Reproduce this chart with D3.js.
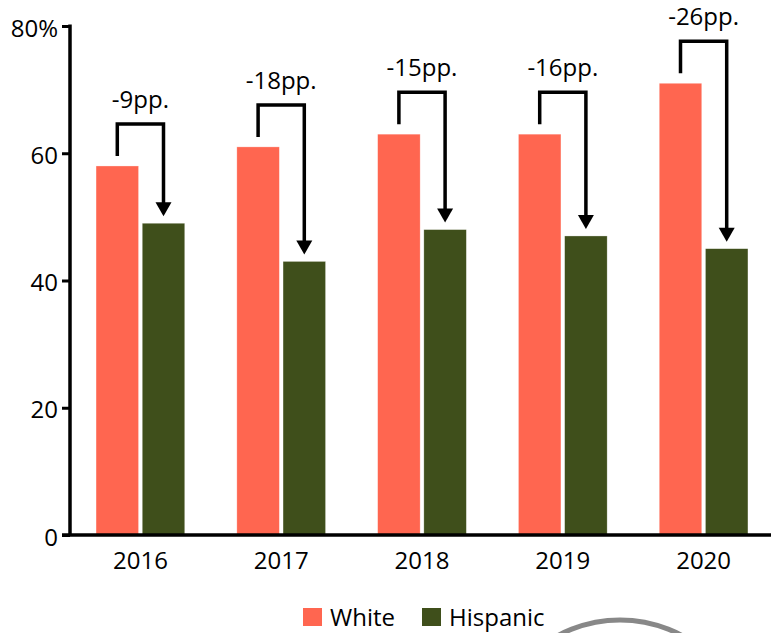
<!DOCTYPE html>
<html>
<head>
<meta charset="utf-8">
<script src="https://cdn.jsdelivr.net/npm/d3@7"></script>
<style>
  html, body { margin: 0; padding: 0; background: #fff; }
  svg { display: block; }
  text { font-family: "Open Sans", sans-serif; fill: #000; }
</style>
</head>
<body>
<svg id="chart" width="771" height="633"></svg>
<script>
const years = ["2016", "2017", "2018", "2019", "2020"];
const seriesNames = ["White", "Hispanic"];
const whiteValues = [58, 61, 63, 63, 71];
const hispanicValues = [49, 43, 48, 47, 45];
const yTicks = [0, 20, 40, 60, 80];
const seriesColors = ["#ff6650", "#3f4f1b"];

const svg = d3.select("#chart");
const W = 771, H = 633;
const FONT = "'Open Sans', sans-serif";

const y = d3.scaleLinear().domain([0, 80]).range([535, 26]);
const x = d3.scaleBand().domain(years).range([70, 774]).paddingInner(0.37).paddingOuter(0.185);
const xs = d3.scaleBand().domain(seriesNames).range([0, x.bandwidth()]).paddingInner(0.08);
const color = d3.scaleOrdinal().domain(seriesNames).range(seriesColors);

const data = years.map((yr, i) => ({ year: yr, White: whiteValues[i], Hispanic: hispanicValues[i] }));

// decorative grey arc (partially visible circle at bottom)
svg.append("circle")
  .attr("cx", 620).attr("cy", 751).attr("r", 131)
  .attr("fill", "none").attr("stroke", "#888").attr("stroke-width", 5);

// bars
const groups = svg.append("g").selectAll("g").data(data).join("g")
  .attr("transform", d => `translate(${x(d.year)},0)`);
groups.selectAll("rect").data(d => seriesNames.map(s => ({ s, v: d[s] }))).join("rect")
  .attr("x", d => xs(d.s))
  .attr("width", xs.bandwidth())
  .attr("y", d => y(d.v))
  .attr("height", d => y(0) - y(d.v))
  .attr("fill", d => color(d.s))
  .attr("stroke", "#fff").attr("stroke-width", 0.6).attr("stroke-opacity", 0.5);

// y axis
const yAxis = svg.append("g").attr("transform", "translate(70,0)")
  .call(d3.axisLeft(y).tickValues(yTicks).tickSize(8).tickSizeOuter(0).tickPadding(4)
    .tickFormat(d => d === 80 ? "80%" : d));
yAxis.select(".domain").attr("stroke", "#000").attr("stroke-width", 3.5)
  .attr("d", `M0,${y(80) - 1.5}V${y(0)}`);
yAxis.selectAll(".tick line").attr("stroke", "#000").attr("stroke-width", 3);
yAxis.selectAll(".tick text").attr("dy", "10px").attr("font-size", "24px")
  .style("font-family", FONT);

// x axis
const xAxis = svg.append("g").attr("transform", `translate(0,${y(0)})`)
  .call(d3.axisBottom(x).tickSize(0).tickSizeOuter(0));
xAxis.select(".domain").attr("stroke", "#000").attr("stroke-width", 3.5)
  .attr("d", `M62,0H${W}`);
xAxis.selectAll(".tick text").attr("y", 34).attr("dy", "0").attr("font-size", "24px")
  .style("font-family", FONT);

// difference annotations
const ann = svg.append("g");
data.forEach(d => {
  const x1 = x(d.year) + xs("White") + xs.bandwidth() / 2;
  const x2 = x(d.year) + xs("Hispanic") + xs.bandwidth() / 2;
  const stemBottom = y(d.White) - 10;
  const top = y(d.White) - 42;
  const tip = y(d.Hispanic) - 7;
  const headH = 14, headW = 8;
  ann.append("path")
    .attr("d", `M${x1},${stemBottom}V${top}H${x2}V${tip - headH + 1}`)
    .attr("fill", "none").attr("stroke", "#000").attr("stroke-width", 3.5)
    .attr("stroke-linejoin", "miter");
  ann.append("path")
    .attr("d", `M${x2 - headW},${tip - headH}L${x2 + headW},${tip - headH}L${x2},${tip}Z`)
    .attr("fill", "#000");
  ann.append("text")
    .attr("x", x(d.year) + x.bandwidth() / 2)
    .attr("y", top - 16)
    .attr("text-anchor", "middle")
    .attr("font-size", "24px")
    .text(`-${d.White - d.Hispanic}pp.`);
});

// legend
const legend = svg.append("g");
const legendX = [303, 422];
seriesNames.forEach((s, i) => {
  legend.append("rect").attr("x", legendX[i]).attr("y", 608).attr("width", 19).attr("height", 18)
    .attr("fill", color(s));
  legend.append("text").attr("x", legendX[i] + 27).attr("y", 626)
    .attr("font-size", "24px").text(s);
});
</script>
</body>
</html>
